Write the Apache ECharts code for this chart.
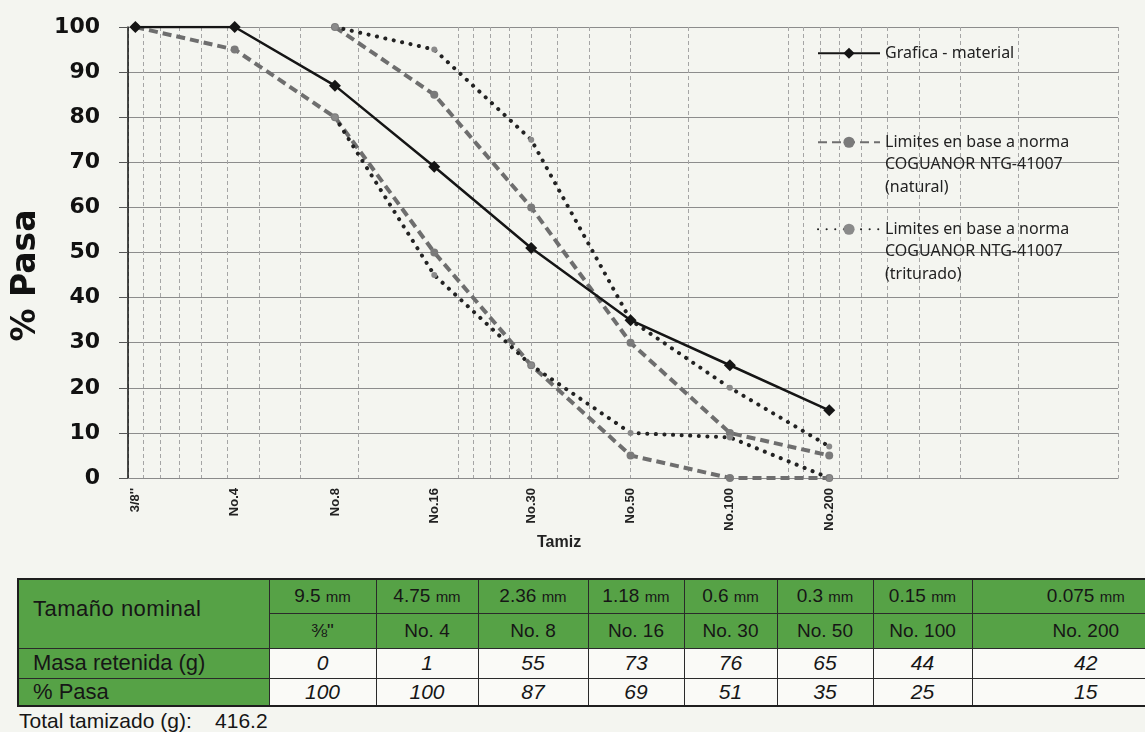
<!DOCTYPE html>
<html>
<head>
<meta charset="utf-8">
<script src="https://cdn.jsdelivr.net/npm/echarts@6/dist/echarts.min.js"></script>
<style>
body{margin:0;background:#f4f5f0;width:1145px;height:732px;overflow:hidden;position:relative;font-family:"Liberation Sans",Arial,sans-serif}
#chart{position:absolute;left:0;top:0;width:1145px;height:575px}
#tabla{position:absolute;left:17px;top:578px;border-collapse:collapse;table-layout:fixed;border:2px solid #1e1e1e}
#tabla td{border:1px solid #2a2a2a;text-align:center;padding:0;color:#161616;white-space:nowrap;overflow:hidden}
#tabla td.g{background:#56a246}
#tabla td.v{background:#fafaf7;font-style:italic;font-size:21px}
#tabla td.t{text-align:left;padding-left:14px;font-size:22px}
#tabla td.h{font-size:19px}
#tabla td.h small{font-size:15px}
#total{position:absolute;left:19px;top:709px;font-size:21px;color:#161616;white-space:pre}
</style>
</head>
<body>
<div id="chart"></div>
<table id="tabla"></table>
<div id="total"></div>
<script>
// tamices (mm) y etiquetas
var tamanos = [9.5, 4.75, 2.36, 1.18, 0.6, 0.3, 0.15, 0.075];
var tamanosTxt = ['9.5', '4.75', '2.36', '1.18', '0.6', '0.3', '0.15', '0.075'];
var tamizEje = ["3/8''", 'No.4', 'No.8', 'No.16', 'No.30', 'No.50', 'No.100', 'No.200'];
var tamizTabla = ['\u215C"', 'No. 4', 'No. 8', 'No. 16', 'No. 30', 'No. 50', 'No. 100', 'No. 200'];
var masaRetenida = [0, 1, 55, 73, 76, 65, 44, 42];
var pasa = [100, 100, 87, 69, 51, 35, 25, 15];
var totalTamizado = '416.2';
// limites norma
var naturalInf = [100, 95, 80, 50, 25, 5, 0, 0];
var naturalSup = [null, null, 100, 85, 60, 30, 10, 5];
var trituradoInf = [null, null, 80, 45, 25, 10, 9, 0];
var trituradoSup = [null, null, 100, 95, 75, 35, 20, 7];

var nomMaterial = 'Grafica - material';
var nomNatural = 'Limites en base a norma COGUANOR NTG-41007 (natural)';
var nomTriturado = 'Limites en base a norma COGUANOR NTG-41007 (triturado)';
var textoLeyenda = {};
textoLeyenda[nomMaterial] = 'Grafica - material';
textoLeyenda[nomNatural] = '\n\nLimites en base a norma\nCOGUANOR NTG-41007\n(natural)';
textoLeyenda[nomTriturado] = '\n\nLimites en base a norma\nCOGUANOR NTG-41007\n(triturado)';

// eje x logaritmico invertido (10 mm -> 0.01 mm)
function u(s){ return -Math.log10(s); }
var lineasLog = [];
for (var e = -2; e <= 0; e++) {
  for (var k = 1; k <= 9; k++) lineasLog.push(u(k * Math.pow(10, e)));
}
lineasLog.push(u(10));
var posTamiz = tamanos.map(u);

function pares(vals){
  var r = [];
  for (var i = 0; i < vals.length; i++) if (vals[i] != null) r.push([posTamiz[i], vals[i]]);
  return r;
}

var chart = echarts.init(document.getElementById('chart'));
var estiloNatural = {color: '#6e6e6e', width: 4, type: [9, 5]};
var estiloTriturado = {color: '#222', width: 4, type: [0.1, 8.5], cap: 'round'};
var leyendaBase = {
  left: 812, orient: 'vertical', itemWidth: 62, itemHeight: 14, selectedMode: false,
  textStyle: {fontFamily: 'Noto Sans', fontSize: 16, color: '#222', lineHeight: 22.5},
  formatter: function(n){ return textoLeyenda[n]; }
};
var option = {
  animation: false,
  grid: {left: 128, right: 27, top: 27, bottom: 97},
  legend: [
    Object.assign({}, leyendaBase, {top: 37, data: [nomMaterial]}),
    Object.assign({}, leyendaBase, {top: 81, data: [nomNatural]}),
    Object.assign({}, leyendaBase, {top: 168, data: [nomTriturado]})
  ],
  xAxis: {
    type: 'value', min: -1, max: 2,
    axisLine: {show: true, onZero: false, lineStyle: {color: '#8a8a8a', width: 1}},
    axisTick: {show: false, customValues: lineasLog},
    splitLine: {show: true, lineStyle: {color: '#a5a5a5', width: 1, type: [4, 3]}},
    axisLabel: {
      customValues: posTamiz, rotate: 90, margin: 10,
      fontFamily: 'Liberation Sans', fontWeight: 'bold', fontSize: 13, color: '#222',
      formatter: function(v){
        for (var i = 0; i < posTamiz.length; i++) if (Math.abs(posTamiz[i] - v) < 1e-6) return tamizEje[i];
        return '';
      }
    }
  },
  yAxis: {
    type: 'value', min: 0, max: 100, interval: 10,
    name: '% Pasa', nameLocation: 'middle', nameGap: 84,
    nameTextStyle: {fontFamily: 'DejaVu Sans', fontWeight: 'bold', fontSize: 33, color: '#111', padding: [0, 46, 0, 0]},
    axisLine: {show: true, onZero: false, lineStyle: {color: '#111', width: 1.5}},
    axisTick: {show: true, length: 9, lineStyle: {color: '#555'}},
    splitLine: {lineStyle: {color: '#8c8c8c', width: 1}},
    axisLabel: {fontFamily: 'DejaVu Sans', fontWeight: 'bold', fontSize: 22, color: '#111', margin: 28}
  },
  graphic: [{
    type: 'text', left: 537, top: 535,
    style: {text: 'Tamiz', font: 'bold 16px "Liberation Sans"', fill: '#222'}
  }],
  series: [
    {name: nomNatural, type: 'line', data: pares(naturalInf), symbol: 'circle', symbolSize: 8,
     itemStyle: {color: '#7a7a7a'}, lineStyle: estiloNatural, z: 2},
    {name: nomNatural, type: 'line', data: pares(naturalSup), symbol: 'circle', symbolSize: 8,
     itemStyle: {color: '#7a7a7a'}, lineStyle: estiloNatural, z: 2},
    {name: nomTriturado, type: 'line', data: pares(trituradoInf), symbol: 'circle', symbolSize: 6,
     itemStyle: {color: '#8a8a8a'}, lineStyle: estiloTriturado, z: 3},
    {name: nomTriturado, type: 'line', data: pares(trituradoSup), symbol: 'circle', symbolSize: 6,
     itemStyle: {color: '#8a8a8a'}, lineStyle: estiloTriturado, z: 3},
    {name: nomMaterial, type: 'line', data: pares(pasa), symbol: 'diamond', symbolSize: 12,
     itemStyle: {color: '#151515'}, lineStyle: {color: '#151515', width: 2.5}, z: 5}
  ]
};
chart.setOption(option);

// tabla de granulometria
var anchos = [251, 107, 102, 110, 96, 93, 96, 99, 228];
var altos = [34, 35, 30, 28];
var tabla = document.getElementById('tabla');
tabla.style.width = anchos.reduce(function(a, b){ return a + b; }, 0) + 'px';
var html = '<colgroup>' + anchos.map(function(w){ return '<col style="width:' + w + 'px">'; }).join('') + '</colgroup>';
html += '<tr style="height:' + altos[0] + 'px"><td class="g t" rowspan="2" style="padding-bottom:10px;letter-spacing:0.5px">Tama\u00f1o nominal</td>';
tamanosTxt.forEach(function(t){ html += '<td class="g h">' + t + ' <small>mm</small></td>'; });
html += '</tr><tr style="height:' + altos[1] + 'px">';
tamizTabla.forEach(function(t){ html += '<td class="g h">' + t + '</td>'; });
html += '</tr><tr style="height:' + altos[2] + 'px"><td class="g t">Masa retenida (g)</td>';
masaRetenida.forEach(function(m){ html += '<td class="v">' + m + '</td>'; });
html += '</tr><tr style="height:' + altos[3] + 'px"><td class="g t">% Pasa</td>';
pasa.forEach(function(p){ html += '<td class="v">' + p + '</td>'; });
html += '</tr>';
tabla.innerHTML = html;
document.getElementById('total').textContent = 'Total tamizado (g):    ' + totalTamizado;
</script>
</body>
</html>
